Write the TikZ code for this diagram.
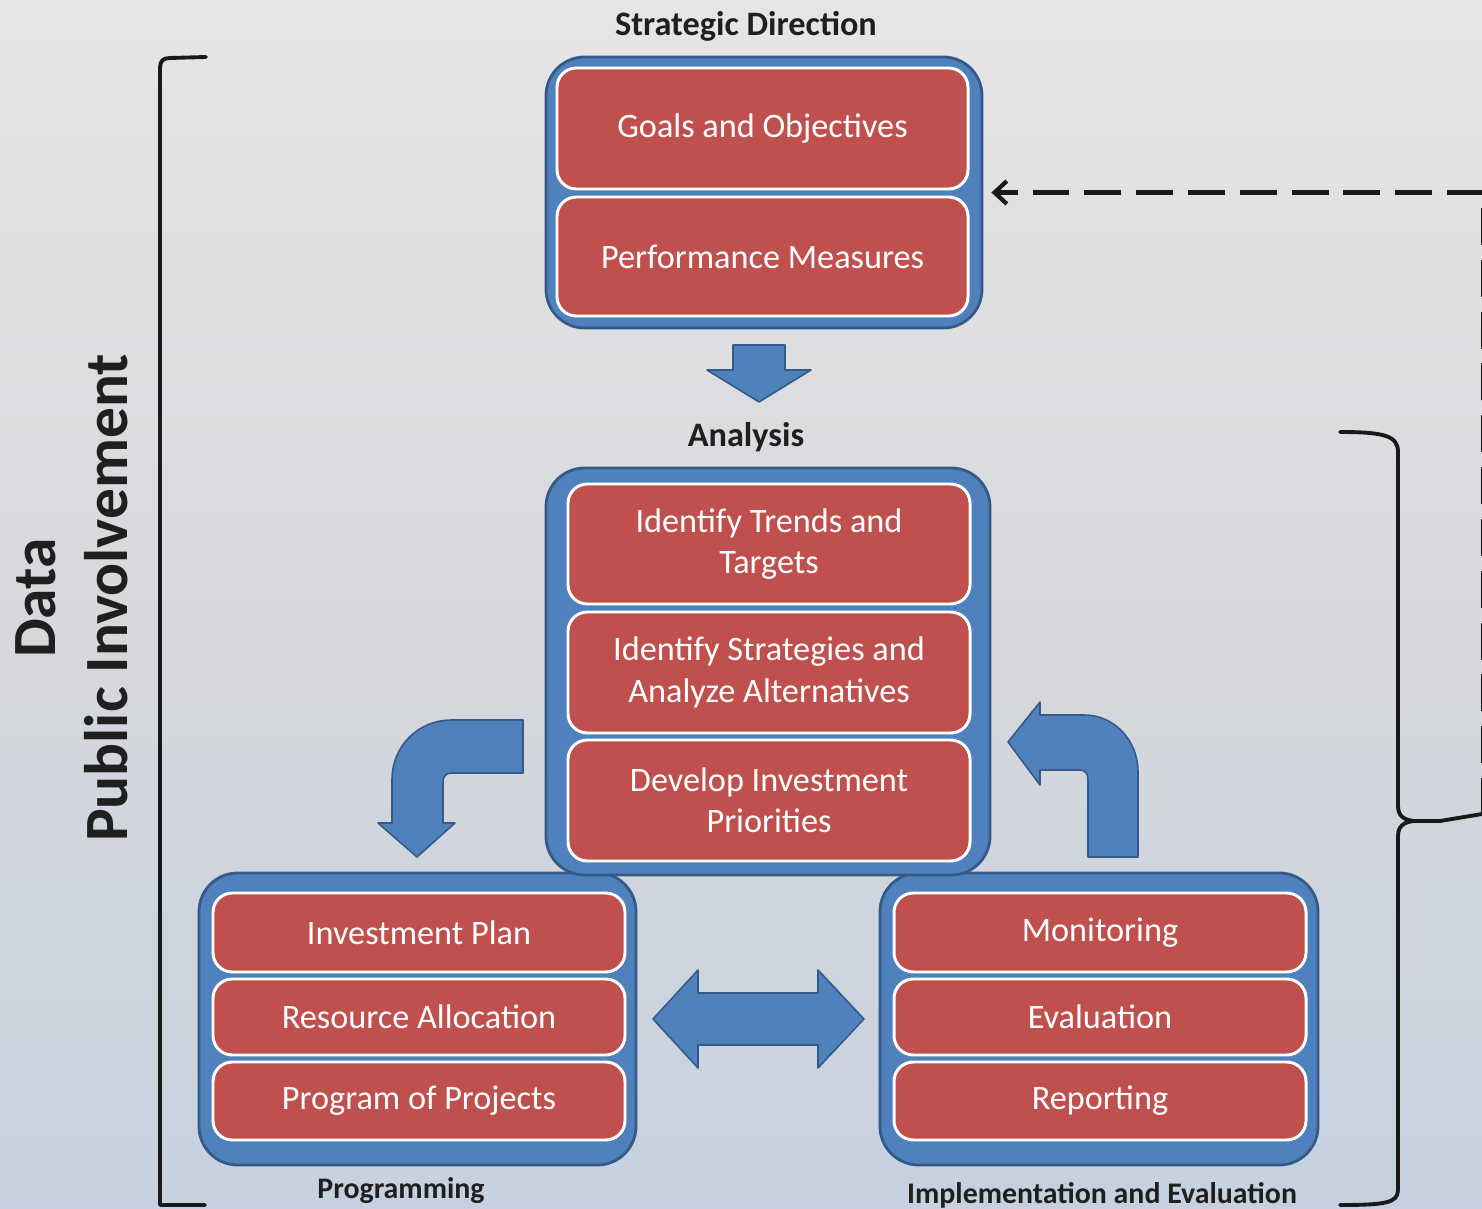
\documentclass[tikz,border=0pt]{standalone}
\usepackage{fontspec}
\setmainfont{Carlito}
\usetikzlibrary{arrows.meta}
\definecolor{panelblue}{RGB}{79,129,189}
\definecolor{paneledge}{RGB}{54,90,135}
\definecolor{cellred}{RGB}{192,80,77}
\def\pxu{0.02cm}
% backdrop: light grey at the top, neutral grey in the middle, pale blue at the foot
\pgfdeclareverticalshading{backdrop}{100bp}{
  rgb(0bp)=(0.72,0.80,0.90);
  rgb(20bp)=(0.76,0.815,0.885);
  rgb(48bp)=(0.84,0.845,0.86);
  rgb(75bp)=(0.90,0.90,0.905);
  rgb(100bp)=(0.95,0.95,0.95)}
\begin{document}
\begin{tikzpicture}[x=0.02cm,y=-0.02cm,
  panel/.style={draw=paneledge, line width=1.6pt, fill=panelblue,
    rounded corners=22pt, inner sep=0pt},
  cell/.style={draw=white, line width=1.7pt, fill=cellred,
    rounded corners=11pt, text=white, inner sep=0pt, align=center,
    font=\fontsize{19.5}{23.5}\selectfont},
  heading/.style={font=\bfseries\fontsize{19.5}{23}\selectfont, text=black!88},
  subheading/.style={font=\bfseries\fontsize{17}{20}\selectfont, text=black!88},
  blockarrow/.style={fill=panelblue, draw=paneledge, line width=0.9pt, line join=round},
  bracketline/.style={draw=black!90, line width=2.2pt, line cap=round, line join=round},
  feedback/.style={draw=black!90, line width=2.6pt, dash pattern=on 21pt off 8.5pt,
    -{Straight Barb[length=7pt,width=13pt,line width=2.4pt]}}
]
\shade[shading=backdrop] (0,0) rectangle (1482,1209);
\useasboundingbox (0,0) rectangle (1482,1209);

% left bracket
\draw[bracketline] (206,57) -- (170,58) .. controls (163,58) and (160,61) .. (160,68) -- (160,1205) -- (205,1205);

% right brace
\draw[bracketline] (1340,432) .. controls (1385,432) and (1398,436) .. (1398,452) -- (1398,806)
  .. controls (1398,816) and (1404,820) .. (1414,821)
  .. controls (1404,822) and (1398,826) .. (1398,836) -- (1398,1190)
  .. controls (1398,1203) and (1385,1205) .. (1340,1205);
\draw[bracketline] (1414,821) -- (1440,821) -- (1482,814);
\coordinate (bracetip) at (1483.5,815);

% Strategic Direction
\node[panel, minimum width=436*\pxu, minimum height=271*\pxu] (strategic) at (764,192.5) {};
\node[cell, minimum width=411*\pxu, minimum height=121*\pxu] (goals) at (762.5,128.5) {Goals and Objectives};
\node[cell, minimum width=411*\pxu, minimum height=119*\pxu] (perf) at (762.5,256.5) {Performance Measures};

% Programming
\node[panel, minimum width=437*\pxu, minimum height=292*\pxu] (programming) at (417.5,1019) {};
\node[cell, minimum width=412*\pxu, minimum height=79*\pxu] (invplan) at (419,932.5) {Investment Plan};
\node[cell, minimum width=412*\pxu, minimum height=76*\pxu] (resalloc) at (419,1017) {Resource Allocation};
\node[cell, minimum width=412*\pxu, minimum height=78*\pxu] (progproj) at (419,1101) {Program of Projects};

% Implementation and Evaluation
\node[panel, minimum width=438*\pxu, minimum height=292*\pxu] (implementation) at (1099,1019) {};
\node[cell, minimum width=412*\pxu, minimum height=79*\pxu] (monitoring) at (1100,932.5) {Monitoring};
\node[cell, minimum width=412*\pxu, minimum height=76*\pxu] (evaluation) at (1100,1017) {Evaluation};
\node[cell, minimum width=412*\pxu, minimum height=78*\pxu] (reporting) at (1100,1101) {Reporting};

% Analysis
\node[panel, minimum width=444*\pxu, minimum height=407*\pxu] (analysis) at (768,671.5) {};
\node[cell, minimum width=402*\pxu, minimum height=120*\pxu] (trends) at (769,544) {Identify Trends and\\Targets};
\node[cell, minimum width=402*\pxu, minimum height=121*\pxu] (strategies) at (769,672.5) {Identify Strategies and\\Analyze Alternatives};
\node[cell, minimum width=402*\pxu, minimum height=121*\pxu] (priorities) at (769,800.5) {Develop Investment\\Priorities};

% block arrows
\draw[blockarrow] (733,345) -- (785,345) -- (785,370) -- (811,370) -- (759,402) -- (707,370) -- (733,370) -- cycle;
\draw[blockarrow] (523,720) -- (452,720) .. controls (418,720) and (392,746) .. (392,780)
  -- (392,823) -- (378,823) -- (417,857) -- (455,823) -- (443,823) -- (443,782)
  .. controls (443,777) and (446,773) .. (451,773) -- (523,773) -- cycle;
\draw[blockarrow] (1088,857) -- (1088,779) .. controls (1088,774) and (1085,770) .. (1080,770)
  -- (1040,770) -- (1040,785) -- (1008,742) -- (1040,702) -- (1040,715) -- (1084,715)
  .. controls (1114,715) and (1138,740) .. (1138,772) -- (1138,857) -- cycle;
\draw[blockarrow] (653,1019) -- (698,970) -- (698,993) -- (818,993) -- (818,970) -- (864,1019)
  -- (818,1068) -- (818,1045) -- (698,1045) -- (698,1068) -- cycle;

% feedback loop
\draw[feedback, shorten >=8*\pxu] (bracetip) |- (strategic.east);

% labels
\node[heading] (lblstrategic) at (746,26) {Strategic Direction};
\node[heading] (lblanalysis) at (746,437) {Analysis};
\node[subheading] (lblprogramming) at (401,1191) {Programming};
\node[subheading] (lblimpl) at (1102,1195) {Implementation and Evaluation};
\node[font=\bfseries\fontsize{35}{41}\selectfont, text=black!88, rotate=90, align=center] (sidelabel) at (71.5,598) {Data\\Public Involvement};
\end{tikzpicture}
\end{document}
